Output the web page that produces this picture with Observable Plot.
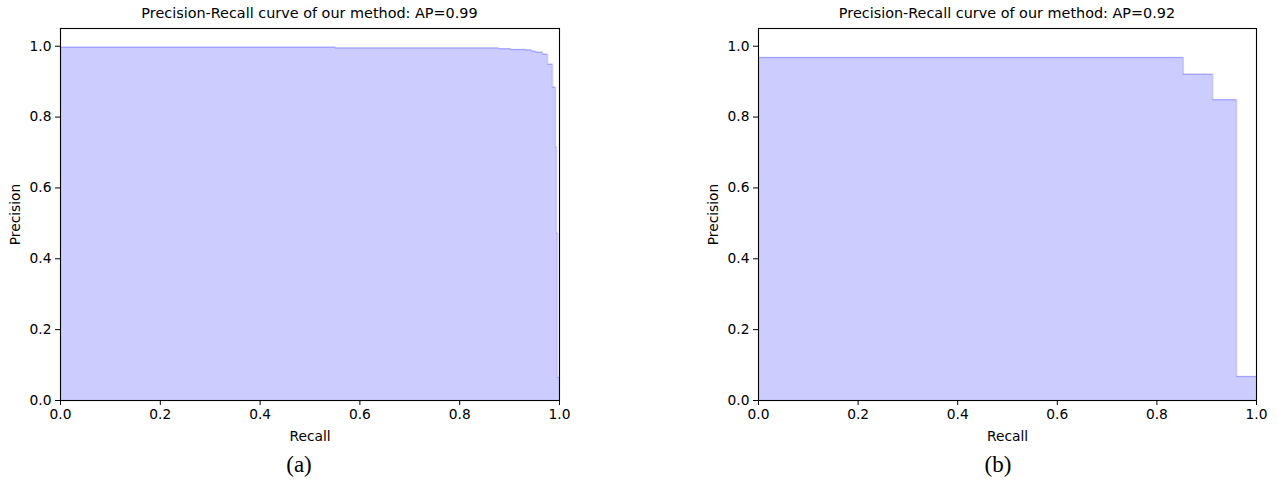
<!DOCTYPE html>
<html>
<head>
<meta charset="utf-8">
<script src="https://cdn.jsdelivr.net/npm/d3@7"></script>
<script src="https://cdn.jsdelivr.net/npm/@observablehq/plot@0.6"></script>
<style>
  html, body { margin: 0; padding: 0; background: #fff; }
  #wrap { position: relative; width: 1279px; height: 493px; overflow: hidden; }
  .title { position: absolute; top: 4px; font-family: "DejaVu Sans", sans-serif; font-size: 14.4px; line-height: 18px; white-space: nowrap; transform: translateX(-50%); color: #000; }
  .caption { position: absolute; top: 451px; font-family: "Liberation Serif", "Times New Roman", serif; font-size: 23px; line-height: 28px; transform: translateX(-50%); color: #000; }
  .chart { position: absolute; top: 20px; }
</style>
</head>
<body>
<div id="wrap"></div>
<script>
// ---- data ----
const recallA = [0, 0.551, 0.878, 0.902, 0.932, 0.944, 0.952, 0.966, 0.976, 0.986, 0.992, 0.994, 0.996, 1.0];
const precisionA = [0.997, 0.995, 0.993, 0.991, 0.989, 0.986, 0.983, 0.977, 0.949, 0.884, 0.715, 0.472, 0.065, 0.065];
const recallB = [0, 0.853, 0.912, 0.960, 1.0];
const precisionB = [0.968, 0.921, 0.849, 0.068, 0.068];
const tickValues = [0, 0.2, 0.4, 0.6, 0.8, 1.0];
const titles = ["Precision-Recall curve of our method: AP=0.99", "Precision-Recall curve of our method: AP=0.92"];
const captions = ["(a)", "(b)"];
const xLabel = "Recall";
const yLabel = "Precision";

const panels = [
  {recall: recallA, precision: precisionA, left: 0, width: 640, mL: 60, mR: 81, cap: 299},
  {recall: recallB, precision: precisionB, left: 640, width: 639, mL: 118, mR: 23, cap: 998}
];

const wrap = document.getElementById("wrap");
const fmt = d3.format(".1f");

panels.forEach((p, i) => {
  const data = p.recall.map((r, j) => ({r, p: p.precision[j]}));
  const chart = Plot.plot({
    width: p.width,
    height: 430,
    marginLeft: p.mL,
    marginRight: p.mR,
    marginTop: 8,
    marginBottom: 50,
    style: {fontFamily: "DejaVu Sans, sans-serif", fontSize: "13.8px", color: "#000", background: "#fff", overflow: "visible"},
    x: {domain: [0, 1]},
    y: {domain: [0, 1.05]},
    marks: [
      Plot.areaY(data, {x: "r", y: "p", curve: "step-after", fill: "#ccccff"}),
      Plot.lineY(data, {x: "r", y: "p", curve: "step-after", stroke: "blue", strokeOpacity: 0.2, strokeWidth: 1.5}),
      Plot.axisX({ticks: tickValues, tickFormat: fmt, tickSize: 5, tickPadding: 4, label: xLabel, labelAnchor: "center", labelArrow: "none", labelOffset: 40, fontSize: 13.8}),
      Plot.axisY({ticks: tickValues, tickFormat: fmt, tickSize: 5, tickPadding: 4, label: yLabel, labelAnchor: "center", labelArrow: "none", labelOffset: 50, fontSize: 13.8}),
      Plot.frame({stroke: "#000", strokeWidth: 1.1})
    ]
  });
  const div = document.createElement("div");
  div.className = "chart";
  div.style.left = p.left + "px";
  div.appendChild(chart);
  wrap.appendChild(div);

  const t = document.createElement("div");
  t.className = "title";
  t.style.left = (p.left + p.mL + (p.width - p.mL - p.mR) / 2) + "px";
  t.textContent = titles[i];
  wrap.appendChild(t);

  const c = document.createElement("div");
  c.className = "caption";
  c.style.left = p.cap + "px";
  c.textContent = captions[i];
  wrap.appendChild(c);
});
</script>
</body>
</html>
